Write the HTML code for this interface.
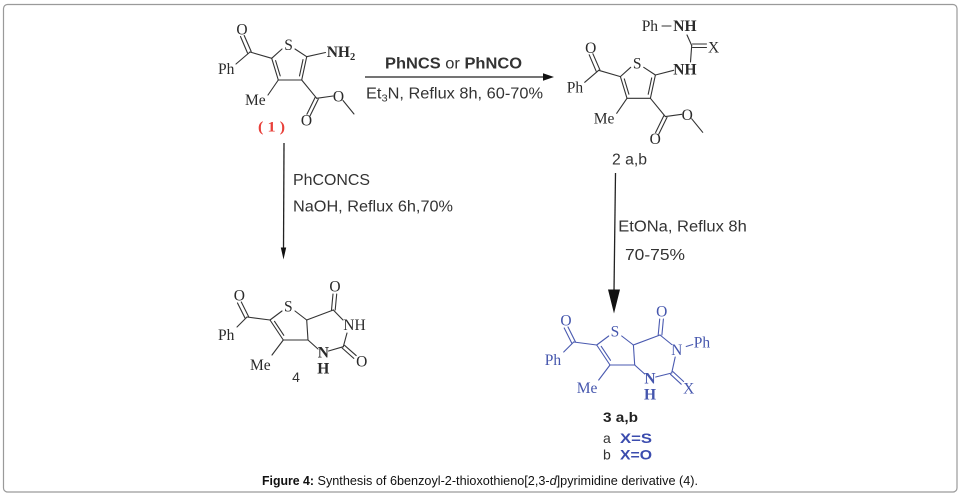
<!DOCTYPE html>
<html>
<head>
<meta charset="utf-8">
<style>
  html,body{margin:0;padding:0;background:#fff;}
  svg{display:block;}
  .sans{font-family:"Liberation Sans",Arial,sans-serif;}
  .serif{font-family:"Liberation Serif","Times New Roman",serif;}
</style>
</head>
<body>
<svg width="964" height="499" viewBox="0 0 964 499" xmlns="http://www.w3.org/2000/svg">
  <rect x="0" y="0" width="964" height="499" fill="#fff"/>
  <!-- frame -->
  <rect x="3.5" y="4.5" width="953.5" height="487.5" rx="4" ry="4" fill="none" stroke="#9a9a9a" stroke-width="1.2"/>

  <!-- ================= Molecule 1 ================= -->
  <g id="m1">
    <g stroke="#333" stroke-width="1.1" fill="none" stroke-linecap="round">
      <line x1="240.5" y1="36.5" x2="247.5" y2="53"/>
      <line x1="244.2" y1="35.5" x2="251.2" y2="51.5"/>
      <line x1="250" y1="52" x2="236" y2="64"/>
      <line x1="250" y1="52" x2="271.7" y2="58.3"/>
      <line x1="271.7" y1="58.3" x2="282" y2="49"/>
      <line x1="295" y1="49" x2="306.7" y2="56.7"/>
      <line x1="306.7" y1="56.7" x2="301.7" y2="80"/>
      <line x1="278.3" y1="80" x2="301.7" y2="80"/>
      <line x1="278.3" y1="80" x2="271.7" y2="58.3"/>
      <line x1="275.6" y1="60.6" x2="280.2" y2="75.9"/>
      <line x1="303" y1="59.6" x2="299.5" y2="75.9"/>
      <line x1="306.7" y1="56.7" x2="325.5" y2="52.5"/>
      <line x1="278.3" y1="80" x2="268" y2="95"/>
      <line x1="301.7" y1="80" x2="316.7" y2="98.3"/>
      <line x1="316.7" y1="98.3" x2="333" y2="96"/>
      <line x1="343" y1="100.5" x2="354" y2="114"/>
      <line x1="318.3" y1="99.1" x2="310.1" y2="115.8"/>
      <line x1="315.1" y1="97.5" x2="306.9" y2="114.2"/>
    </g>
    <g class="serif" fill="#2a2a2a" font-size="15.5">
      <text x="242" y="34.5" text-anchor="middle">O</text>
      <text x="288.5" y="50" text-anchor="middle">S</text>
      <text x="218" y="74">Ph</text>
      <text x="245" y="105">Me</text>
      <text x="338.5" y="101.5" text-anchor="middle">O</text>
      <text x="306.5" y="125.5" text-anchor="middle">O</text>
    </g>
  </g>
  <text class="serif" x="326.7" y="57" font-size="15.5" font-weight="bold" fill="#2a2a2a">NH<tspan font-size="10.5" dy="3">2</tspan></text>
  <text class="serif" x="258" y="131.5" font-size="15" font-weight="bold" fill="#e8403a" textLength="27" lengthAdjust="spacingAndGlyphs">( 1 )</text>

  <!-- ================= Molecule 2 ================= -->
  <g transform="translate(348.7,18.3)">
    <g stroke="#333" stroke-width="1.1" fill="none" stroke-linecap="round">
      <line x1="240.5" y1="36.5" x2="247.5" y2="53"/>
      <line x1="244.2" y1="35.5" x2="251.2" y2="51.5"/>
      <line x1="250" y1="52" x2="236" y2="64"/>
      <line x1="250" y1="52" x2="271.7" y2="58.3"/>
      <line x1="271.7" y1="58.3" x2="282" y2="49"/>
      <line x1="295" y1="49" x2="306.7" y2="56.7"/>
      <line x1="306.7" y1="56.7" x2="301.7" y2="80"/>
      <line x1="278.3" y1="80" x2="301.7" y2="80"/>
      <line x1="278.3" y1="80" x2="271.7" y2="58.3"/>
      <line x1="275.6" y1="60.6" x2="280.2" y2="75.9"/>
      <line x1="303" y1="59.6" x2="299.5" y2="75.9"/>
      <line x1="306.7" y1="56.7" x2="325" y2="52"/>
      <line x1="278.3" y1="80" x2="268" y2="95"/>
      <line x1="301.7" y1="80" x2="316.7" y2="98.3"/>
      <line x1="316.7" y1="98.3" x2="333" y2="96"/>
      <line x1="343" y1="100.5" x2="354" y2="114"/>
      <line x1="318.3" y1="99.1" x2="310.1" y2="115.8"/>
      <line x1="315.1" y1="97.5" x2="306.9" y2="114.2"/>
    </g>
    <g class="serif" fill="#2a2a2a" font-size="15.5">
      <text x="242" y="34.5" text-anchor="middle">O</text>
      <text x="288.5" y="50" text-anchor="middle">S</text>
      <text x="218" y="74">Ph</text>
      <text x="245" y="105">Me</text>
      <text x="338.5" y="101.5" text-anchor="middle">O</text>
      <text x="306.5" y="125.5" text-anchor="middle">O</text>
    </g>
  </g>
  <g stroke="#333" stroke-width="1.1" fill="none" stroke-linecap="round">
    <line x1="690.5" y1="62" x2="691.7" y2="45.5"/>
    <line x1="691.7" y1="45.5" x2="687" y2="35"/>
    <line x1="692.5" y1="44" x2="706.5" y2="44"/>
    <line x1="692.5" y1="47.5" x2="706.5" y2="47.5"/>
    <line x1="662" y1="26" x2="671" y2="26"/>
  </g>
  <g class="serif" fill="#2a2a2a" font-size="15.5">
    <text x="673.3" y="74.5" font-weight="bold">NH</text>
    <text x="673.3" y="31" font-weight="bold">NH</text>
    <text x="641.7" y="31">Ph</text>
    <text x="708" y="52.5">X</text>
  </g>

  <!-- ================= Molecule 4 ================= -->
  <g stroke="#333" stroke-width="1.1" fill="none" stroke-linecap="round">
    <line x1="237.5" y1="303" x2="245" y2="318"/>
    <line x1="241.3" y1="302" x2="248.8" y2="317"/>
    <line x1="247" y1="317" x2="237" y2="327"/>
    <line x1="247" y1="317" x2="270" y2="320"/>
    <line x1="270" y1="320" x2="282" y2="311"/>
    <line x1="295" y1="311" x2="306.7" y2="320"/>
    <line x1="306.7" y1="320" x2="308" y2="340"/>
    <line x1="308" y1="340" x2="283.3" y2="340"/>
    <line x1="283.3" y1="340" x2="270" y2="320"/>
    <line x1="274.5" y1="321.3" x2="283.8" y2="335.3"/>
    <line x1="283.3" y1="340" x2="272" y2="355"/>
    <line x1="306.7" y1="320" x2="333.3" y2="310"/>
    <line x1="331.5" y1="310" x2="333" y2="294"/>
    <line x1="335.2" y1="310" x2="336.7" y2="294"/>
    <line x1="333.3" y1="310" x2="343" y2="320"/>
    <line x1="347" y1="333" x2="343.3" y2="346.7"/>
    <line x1="342.1" y1="348" x2="353.8" y2="358.4"/>
    <line x1="344.5" y1="345.3" x2="356.2" y2="355.6"/>
    <line x1="343.3" y1="346.7" x2="328.5" y2="351"/>
    <line x1="318" y1="349" x2="308" y2="340"/>
  </g>
  <g class="serif" fill="#2a2a2a" font-size="15.5">
    <text x="239.3" y="300.5" text-anchor="middle">O</text>
    <text x="218" y="340">Ph</text>
    <text x="288.3" y="311.5" text-anchor="middle">S</text>
    <text x="335" y="291.5" text-anchor="middle">O</text>
    <text x="343.3" y="330">NH</text>
    <text x="250" y="370">Me</text>
    <text x="323.3" y="357.3" text-anchor="middle" font-weight="bold">N</text>
    <text x="323.3" y="373.3" text-anchor="middle" font-weight="bold">H</text>
    <text x="361.7" y="366.7" text-anchor="middle">O</text>
  </g>
  <text class="sans" x="296" y="382" text-anchor="middle" font-size="14" fill="#333">4</text>

  <!-- ================= Molecule 3 (blue) ================= -->
  <g transform="translate(326.7,25)">
    <g stroke="#4a5ab0" stroke-width="1.1" fill="none" stroke-linecap="round">
      <line x1="237.5" y1="303" x2="245" y2="318"/>
      <line x1="241.3" y1="302" x2="248.8" y2="317"/>
      <line x1="247" y1="317" x2="237" y2="327"/>
      <line x1="247" y1="317" x2="270" y2="320"/>
      <line x1="270" y1="320" x2="282" y2="311"/>
      <line x1="295" y1="311" x2="306.7" y2="320"/>
      <line x1="306.7" y1="320" x2="308" y2="340"/>
      <line x1="308" y1="340" x2="283.3" y2="340"/>
      <line x1="283.3" y1="340" x2="270" y2="320"/>
      <line x1="274.5" y1="321.3" x2="283.8" y2="335.3"/>
      <line x1="283.3" y1="340" x2="272" y2="355"/>
      <line x1="306.7" y1="320" x2="333.3" y2="310"/>
      <line x1="331.5" y1="310" x2="333" y2="294"/>
      <line x1="335.2" y1="310" x2="336.7" y2="294"/>
      <line x1="333.3" y1="310" x2="345" y2="319.5"/>
      <line x1="348.5" y1="332" x2="345" y2="348"/>
      <line x1="343.8" y1="349.3" x2="354.5" y2="359.2"/>
      <line x1="346.2" y1="346.6" x2="356.9" y2="356.5"/>
      <line x1="345" y1="348" x2="329" y2="352"/>
      <line x1="318" y1="349" x2="308" y2="340"/>
      <line x1="359.5" y1="321.5" x2="366" y2="319.5"/>
    </g>
    <g class="serif" fill="#4556ad" font-size="15.5">
      <text x="239.3" y="300.5" text-anchor="middle">O</text>
      <text x="218" y="340">Ph</text>
      <text x="288.3" y="311.5" text-anchor="middle">S</text>
      <text x="335" y="291.5" text-anchor="middle">O</text>
      <text x="350" y="330" text-anchor="middle">N</text>
      <text x="367" y="322.5">Ph</text>
      <text x="250" y="368">Me</text>
      <text x="323.3" y="358.5" text-anchor="middle" font-weight="bold">N</text>
      <text x="323.3" y="374.5" text-anchor="middle" font-weight="bold">H</text>
      <text x="362" y="368.3" text-anchor="middle">X</text>
    </g>
  </g>

  <!-- labels under 3 -->
  <text class="sans" x="603" y="422" font-size="14" font-weight="bold" fill="#222" textLength="35" lengthAdjust="spacingAndGlyphs">3 a,b</text>
  <text class="sans" x="603" y="443" font-size="14" fill="#333">a</text>
  <text class="sans" x="620" y="443" font-size="14" font-weight="bold" fill="#3b4cae" textLength="32" lengthAdjust="spacingAndGlyphs">X=S</text>
  <text class="sans" x="603" y="459.5" font-size="14" fill="#333">b</text>
  <text class="sans" x="620" y="459.5" font-size="14" font-weight="bold" fill="#3b4cae" textLength="32" lengthAdjust="spacingAndGlyphs">X=O</text>

  <!-- ================= Arrows ================= -->
  <g stroke="#222" stroke-width="1.3" fill="none">
    <line x1="365" y1="77" x2="545" y2="77"/>
    <line x1="284" y1="143" x2="283.5" y2="250"/>
    <line x1="615.5" y1="173" x2="614" y2="292"/>
  </g>
  <g fill="#111">
    <polygon points="554,77 543,73.3 543,80.7"/>
    <polygon points="283.5,259.5 280.8,247.5 286.2,247.5"/>
    <polygon points="614,313.5 608,289.5 620,289.5"/>
  </g>

  <!-- reagents -->
  <text class="sans" x="385" y="68.3" font-size="15.5" fill="#333" textLength="137" lengthAdjust="spacingAndGlyphs"><tspan font-weight="bold">PhNCS</tspan> or <tspan font-weight="bold">PhNCO</tspan></text>
  <text class="sans" x="366" y="98.3" font-size="15.5" fill="#333" textLength="177" lengthAdjust="spacingAndGlyphs">Et<tspan font-size="10.5" dy="3">3</tspan><tspan dy="-3">N, Reflux 8h, 60-70%</tspan></text>

  <text class="sans" x="293" y="185" font-size="15.5" fill="#333" textLength="77" lengthAdjust="spacingAndGlyphs">PhCONCS</text>
  <text class="sans" x="293" y="211.5" font-size="15.5" fill="#333" textLength="160" lengthAdjust="spacingAndGlyphs">NaOH, Reflux 6h,70%</text>

  <text class="sans" x="612" y="164.5" font-size="15.5" fill="#333" textLength="35" lengthAdjust="spacingAndGlyphs">2 a,b</text>

  <text class="sans" x="618.3" y="231.7" font-size="15.5" fill="#333" textLength="128.5" lengthAdjust="spacingAndGlyphs">EtONa, Reflux 8h</text>
  <text class="sans" x="625" y="260" font-size="15.5" fill="#333" textLength="60" lengthAdjust="spacingAndGlyphs">70-75%</text>

  <!-- caption -->
  <text class="sans" x="262" y="485" font-size="12.5" font-weight="bold" fill="#111" textLength="52" lengthAdjust="spacingAndGlyphs">Figure 4:</text>
  <text class="sans" x="317.5" y="485" font-size="12.5" fill="#111" textLength="380.5" lengthAdjust="spacingAndGlyphs">Synthesis of 6benzoyl-2-thioxothieno[2,3-<tspan font-style="italic">d</tspan>]pyrimidine derivative (4).</text>
</svg>
</body>
</html>
